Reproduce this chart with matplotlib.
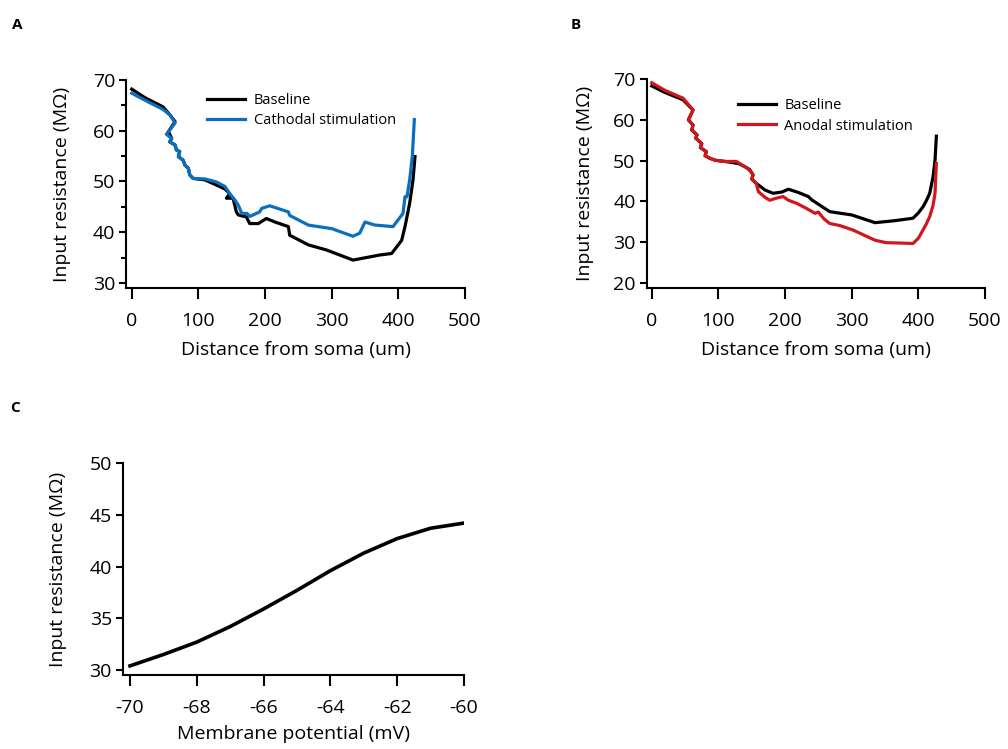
import matplotlib
matplotlib.use("Agg")
import matplotlib.pyplot as plt

plt.rcParams['font.family'] = ['Open Sans', 'DejaVu Sans']

# panel A: distance from soma (um) vs input resistance (MOhm)
a_base_x = [0, 20, 47, 58, 65, 55, 60, 57, 65, 67, 72, 70, 77, 80, 85, 87, 92, 110, 127, 140,
            147, 142, 152, 157, 160, 172, 177, 190, 202, 215, 235, 237, 265, 292, 332, 372,
            390, 405, 410, 417, 422, 425]
a_base_y = [68.2, 66.5, 64.7, 63.0, 61.8, 59.8, 58.5, 57.8, 57.2, 56.2, 55.9, 54.9, 54.2, 53.2,
            52.6, 51.3, 50.6, 50.3, 49.3, 48.5, 47.6, 46.7, 46.7, 44.0, 43.4, 43.0, 41.7, 41.7,
            42.7, 42.0, 41.1, 39.4, 37.5, 36.5, 34.5, 35.5, 35.8, 38.4, 41.1, 45.7, 50.3, 54.9]

a_cath_x = [0, 20, 47, 58, 65, 52, 60, 57, 65, 67, 72, 70, 77, 80, 85, 87, 92, 110, 127, 140,
            147, 155, 160, 165, 173, 177, 192, 195, 207, 235, 237, 265, 300, 332, 342, 350,
            365, 392, 407, 410, 413, 417, 421, 424]
a_cath_y = [67.4, 66.0, 64.2, 63.0, 61.5, 59.3, 58.5, 57.8, 57.2, 56.2, 55.9, 54.9, 54.2, 53.2,
            52.6, 51.3, 50.6, 50.5, 49.9, 49.0, 47.6, 46.3, 45.3, 43.7, 43.7, 43.1, 44.0, 44.7,
            45.2, 44.0, 43.3, 41.4, 40.7, 39.2, 39.8, 42.0, 41.4, 41.1, 43.7, 47.0, 47.0, 50.3,
            55.0, 62.2]

# panel B
b_base_x = [0, 20, 47, 62, 55, 62, 60, 68, 66, 75, 73, 82, 80, 87, 95, 110, 130, 140, 147, 152,
            150, 157, 162, 170, 182, 195, 205, 220, 235, 240, 267, 300, 335, 365, 392, 400,
            407, 412, 417, 422, 425, 427]
b_base_y = [68.3, 66.7, 64.9, 62.4, 60.0, 58.7, 57.5, 56.3, 55.5, 54.2, 53.2, 52.2, 51.2, 50.6,
            50.1, 49.8, 49.3, 48.5, 47.8, 46.5, 45.5, 44.4, 43.8, 42.8, 42.0, 42.3, 43.0, 42.2,
            41.2, 40.4, 37.5, 36.7, 34.8, 35.3, 35.9, 37.2, 38.7, 40.2, 42.0, 46.0, 50.1, 56.0]

b_anod_x = [0, 20, 47, 62, 55, 62, 60, 68, 66, 75, 73, 82, 80, 87, 95, 110, 127, 140, 147, 152,
            150, 157, 160, 170, 177, 187, 197, 205, 218, 232, 245, 250, 258, 267, 282, 302,
            335, 352, 375, 392, 400, 407, 412, 417, 422, 425, 427]
b_anod_y = [69.1, 67.2, 65.3, 62.4, 60.0, 58.7, 57.5, 56.3, 55.5, 54.2, 53.2, 52.2, 51.2, 50.6,
            50.1, 49.8, 49.8, 48.5, 47.6, 46.5, 45.5, 44.4, 42.4, 41.0, 40.3, 40.8, 41.2, 40.3,
            39.5, 38.3, 37.1, 37.4, 35.8, 34.6, 34.1, 33.0, 30.5, 29.9, 29.8, 29.7, 31.0, 33.0,
            34.5, 36.3, 39.0, 42.0, 49.3]

# panel C: membrane potential (mV) vs input resistance
c_vm = [-70, -69, -68, -67, -66, -65, -64, -63, -62, -61, -60]
c_rin = [30.4, 31.5, 32.7, 34.2, 35.9, 37.7, 39.6, 41.3, 42.7, 43.7, 44.2]

blue = "#0b6fc0"
red = "#d0181c"
lw = 2.3
fs = 14


def style(ax):
    for s in ["top", "right"]:
        ax.spines[s].set_visible(False)
    for s in ["left", "bottom"]:
        ax.spines[s].set_linewidth(1.5)
    ax.tick_params(axis="x", direction="out", length=8, width=1.5, labelsize=fs, pad=9)
    ax.tick_params(axis="y", direction="out", length=5, width=1.5, labelsize=fs, pad=3)
    ax.tick_params(axis="y", which="minor", direction="out", length=3.5, width=1.5)


fig = plt.figure(figsize=(10.08, 7.49), dpi=100)

axA = fig.add_axes([0.1254, 0.6155, 0.3359, 0.2777])
axA.plot(a_base_x, a_base_y, color="black", lw=lw, label="Baseline")
axA.plot(a_cath_x, a_cath_y, color=blue, lw=lw, label="Cathodal stimulation")
axA.set_xlim(-8, 500)
axA.set_ylim(29, 70)
axA.set_xticks([0, 100, 200, 300, 400, 500])
axA.set_yticks([30, 40, 50, 60, 70])
axA.set_yticks([35, 45, 55, 65], minor=True)
style(axA)
axA.set_xlabel("Distance from soma (um)", fontsize=fs, labelpad=8)
axA.set_ylabel("Input resistance (M\u03a9)", fontsize=fs, labelpad=16)
axA.legend(frameon=False, fontsize=10.5, handlelength=2.6, handletextpad=0.6,
           labelspacing=0.35, loc="upper left", bbox_to_anchor=(0.2, 1.0))

axB = fig.add_axes([0.6416, 0.6155, 0.3356, 0.279])
axB.plot(b_base_x, b_base_y, color="black", lw=lw, label="Baseline")
axB.plot(b_anod_x, b_anod_y, color=red, lw=lw, label="Anodal stimulation")
axB.set_xlim(-7.5, 500)
axB.set_ylim(18.8, 70)
axB.set_xticks([0, 100, 200, 300, 400, 500])
axB.set_yticks([20, 30, 40, 50, 60, 70])
style(axB)
axB.set_xlabel("Distance from soma (um)", fontsize=fs, labelpad=8)
axB.set_ylabel("Input resistance (M\u03a9)", fontsize=fs, labelpad=14)
axB.legend(frameon=False, fontsize=10.5, handlelength=2.6, handletextpad=0.6,
           labelspacing=0.35, loc="upper left", bbox_to_anchor=(0.23, 0.97))

axC = fig.add_axes([0.122, 0.0988, 0.3383, 0.283])
axC.plot(c_vm, c_rin, color="black", lw=lw + 0.3)
axC.set_xlim(-70.21, -60)
axC.set_ylim(29.52, 50)
axC.set_xticks([-70, -68, -66, -64, -62, -60])
axC.set_xticklabels(["-70", "-68", "-66", "-64", "-62", "-60"])
axC.set_yticks([30, 35, 40, 45, 50])
style(axC)
axC.set_xlabel("Membrane potential (mV)", fontsize=fs, labelpad=6)
axC.set_ylabel("Input resistance (M\u03a9)", fontsize=fs, labelpad=16)

fig.text(0.012, 0.967, "A", fontsize=11, fontweight="bold", va="center")
fig.text(0.566, 0.967, "B", fontsize=11, fontweight="bold", va="center")
fig.text(0.010, 0.455, "C", fontsize=11, fontweight="bold", va="center")

fig.savefig("out.png", dpi=100)
